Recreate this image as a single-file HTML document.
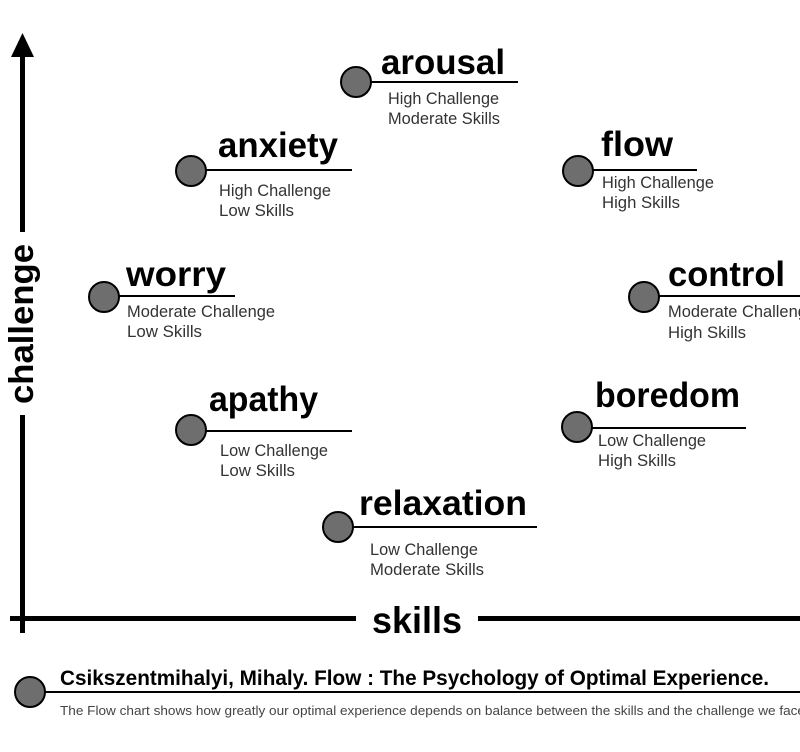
<!DOCTYPE html>
<html><head><meta charset="utf-8"><style>
html,body{margin:0;padding:0;background:#fff;}
svg{display:block;font-family:"Liberation Sans",sans-serif;}
.t{font-weight:bold;font-size:35px;fill:#000;}
.s{font-size:16.5px;fill:#333;}
</style></head><body>
<svg width="800" height="752" viewBox="0 0 800 752">
<rect x="20" y="54" width="5" height="178" fill="#000"/>
<polygon points="22.5,33 11,57 34,57" fill="#000"/>
<rect x="20" y="415" width="5" height="218" fill="#000"/>
<text x="22" y="324" transform="rotate(-90 22 324)" text-anchor="middle" dominant-baseline="central" font-weight="bold" font-size="34" textLength="160" lengthAdjust="spacingAndGlyphs">challenge</text>
<rect x="10" y="616" width="346" height="5" fill="#000"/>
<rect x="478" y="616" width="322" height="5" fill="#000"/>
<text x="372" y="633" font-weight="bold" font-size="37" textLength="90" lengthAdjust="spacingAndGlyphs">skills</text>

<g stroke="#000" stroke-width="2" fill="#6e6e6e">
<circle cx="356" cy="82" r="15"/>
<circle cx="191" cy="171" r="15"/>
<circle cx="578" cy="171" r="15"/>
<circle cx="104" cy="297" r="15"/>
<circle cx="644" cy="297" r="15"/>
<circle cx="191" cy="430" r="15"/>
<circle cx="577" cy="427" r="15"/>
<circle cx="338" cy="527" r="15"/>
<circle cx="30" cy="692" r="15"/>
</g>
<g stroke="#000" stroke-width="2">
<line x1="371" y1="82" x2="518" y2="82"/>
<line x1="206" y1="170" x2="352" y2="170"/>
<line x1="593" y1="170" x2="697" y2="170"/>
<line x1="119" y1="296" x2="235" y2="296"/>
<line x1="659" y1="296" x2="800" y2="296"/>
<line x1="206" y1="431" x2="352" y2="431"/>
<line x1="592" y1="428" x2="746" y2="428"/>
<line x1="353" y1="527" x2="537" y2="527"/>
<line x1="45" y1="692" x2="800" y2="692"/>
</g>

<text class="t" x="381" y="74" textLength="124" lengthAdjust="spacingAndGlyphs">arousal</text>
<text class="s" x="388" y="104" textLength="111" lengthAdjust="spacingAndGlyphs">High Challenge</text>
<text class="s" x="388" y="124" textLength="112" lengthAdjust="spacingAndGlyphs">Moderate Skills</text>

<text class="t" x="218" y="157" textLength="120" lengthAdjust="spacingAndGlyphs">anxiety</text>
<text class="s" x="219" y="196" textLength="112" lengthAdjust="spacingAndGlyphs">High Challenge</text>
<text class="s" x="219" y="216" textLength="75" lengthAdjust="spacingAndGlyphs">Low Skills</text>

<text class="t" x="601" y="156" textLength="72" lengthAdjust="spacingAndGlyphs">flow</text>
<text class="s" x="602" y="188" textLength="112" lengthAdjust="spacingAndGlyphs">High Challenge</text>
<text class="s" x="602" y="208" textLength="78" lengthAdjust="spacingAndGlyphs">High Skills</text>

<text class="t" x="126" y="286" textLength="100" lengthAdjust="spacingAndGlyphs">worry</text>
<text class="s" x="127" y="317" textLength="148" lengthAdjust="spacingAndGlyphs">Moderate Challenge</text>
<text class="s" x="127" y="337" textLength="75" lengthAdjust="spacingAndGlyphs">Low Skills</text>

<text class="t" x="668" y="286" textLength="117" lengthAdjust="spacingAndGlyphs">control</text>
<text class="s" x="668" y="317" textLength="148" lengthAdjust="spacingAndGlyphs">Moderate Challenge</text>
<text class="s" x="668" y="338" textLength="78" lengthAdjust="spacingAndGlyphs">High Skills</text>

<text class="t" x="209" y="411" textLength="109" lengthAdjust="spacingAndGlyphs">apathy</text>
<text class="s" x="220" y="456" textLength="108" lengthAdjust="spacingAndGlyphs">Low Challenge</text>
<text class="s" x="220" y="476" textLength="75" lengthAdjust="spacingAndGlyphs">Low Skills</text>

<text class="t" x="595" y="407" textLength="145" lengthAdjust="spacingAndGlyphs">boredom</text>
<text class="s" x="598" y="446" textLength="108" lengthAdjust="spacingAndGlyphs">Low Challenge</text>
<text class="s" x="598" y="466" textLength="78" lengthAdjust="spacingAndGlyphs">High Skills</text>

<text class="t" x="359" y="515" textLength="168" lengthAdjust="spacingAndGlyphs">relaxation</text>
<text class="s" x="370" y="555" textLength="108" lengthAdjust="spacingAndGlyphs">Low Challenge</text>
<text class="s" x="370" y="575" textLength="114" lengthAdjust="spacingAndGlyphs">Moderate Skills</text>

<text x="60" y="685" font-weight="bold" font-size="21" textLength="709" lengthAdjust="spacingAndGlyphs">Csikszentmihalyi, Mihaly. Flow : The Psychology of Optimal Experience.</text>
<text x="60" y="715" font-size="13" fill="#444" textLength="745" lengthAdjust="spacingAndGlyphs">The Flow chart shows how greatly our optimal experience depends on balance between the skills and the challenge we face</text>
</svg>
</body></html>
